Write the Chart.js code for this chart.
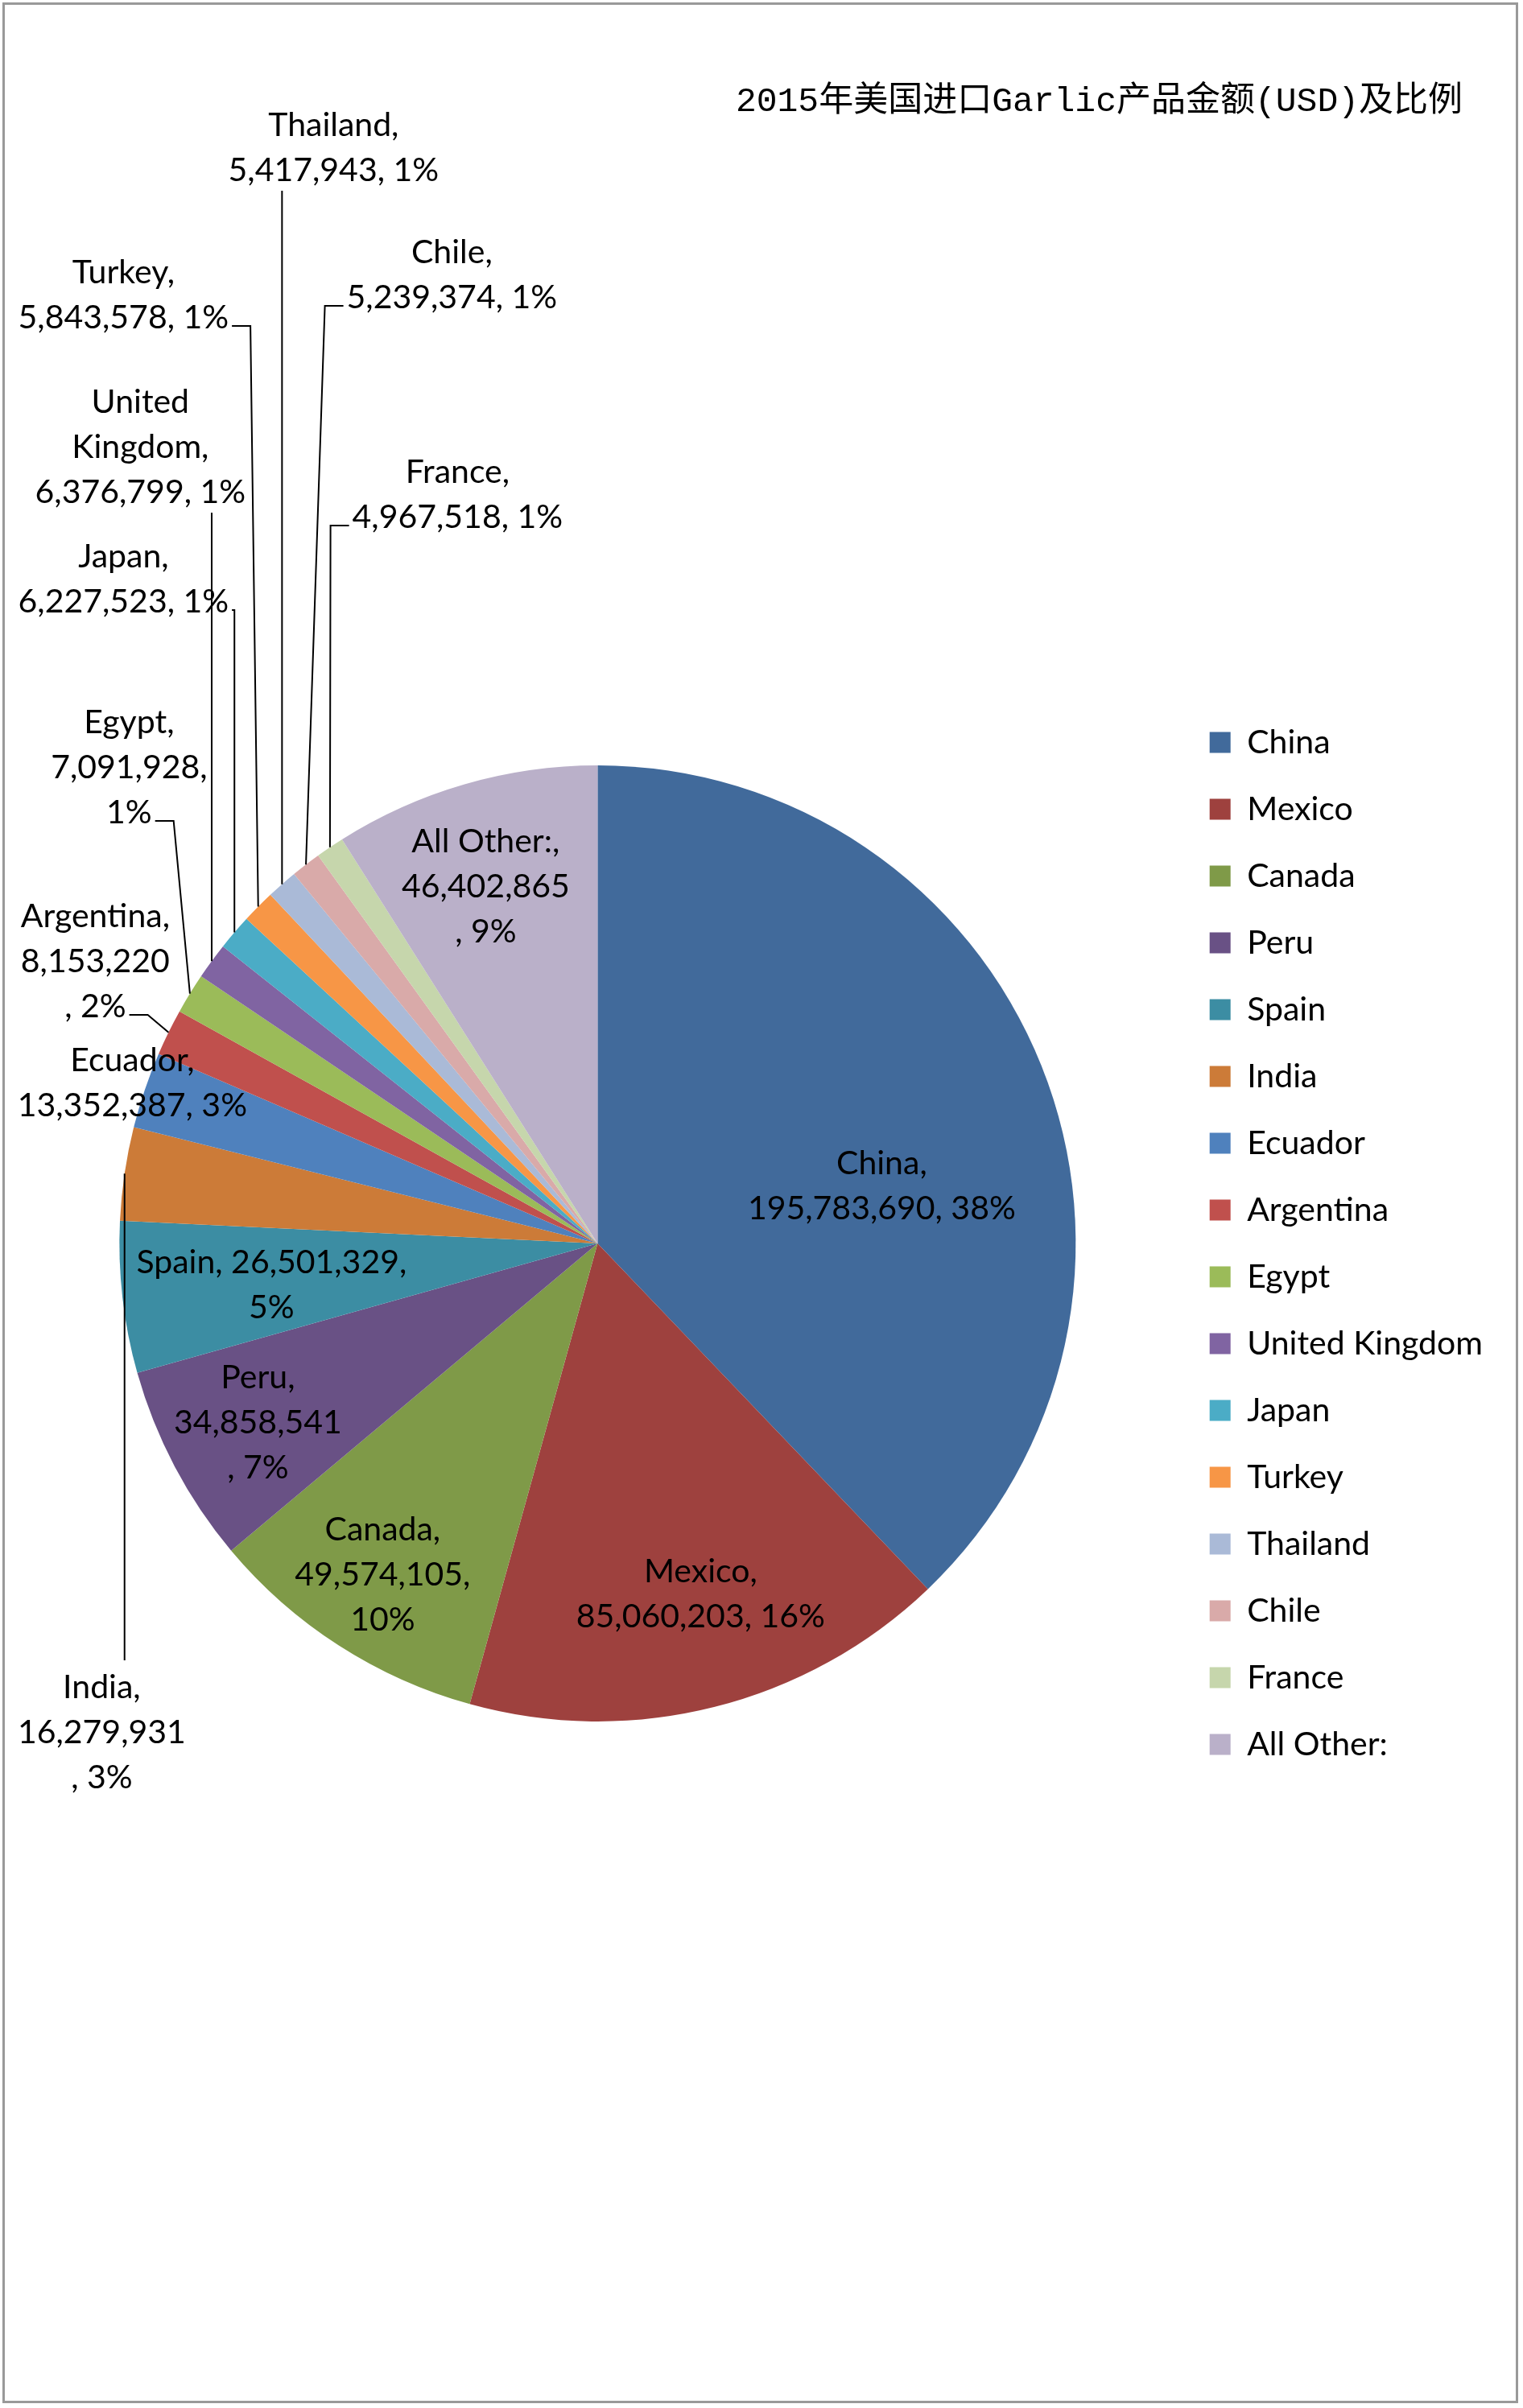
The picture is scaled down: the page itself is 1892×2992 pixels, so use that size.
<!DOCTYPE html>
<html>
<head>
<meta charset="utf-8">
<script src="https://cdn.jsdelivr.net/npm/chart.js@4.4.1/dist/chart.umd.min.js"></script>
<style>
  body { margin: 0; background: #fff; }
</style>
</head>
<body>
<canvas id="garlicChart" width="1892" height="2992"></canvas>
<script>
const chartTitle = '2015年美国进口Garlic产品金额(USD)及比例';
const countries = ['China', 'Mexico', 'Canada', 'Peru', 'Spain', 'India', 'Ecuador', 'Argentina',
    'Egypt', 'United Kingdom', 'Japan', 'Turkey', 'Thailand', 'Chile', 'France', 'All Other:'];
const amounts = [195783690, 85060203, 49574105, 34858541, 26501329, 16279931, 13352387, 8153220,
    7091928, 6376799, 6227523, 5843578, 5417943, 5239374, 4967518, 46402865];
const sliceColors = ['#416A9B', '#9E413E', '#7F9A48', '#695185', '#3C8DA3', '#CC7B38', '#4F81BD', '#C0504D',
    '#9BBB59', '#8064A2', '#4BACC6', '#F79646', '#AABAD7', '#D9AAA9', '#C6D6AC', '#BAB0C9'];

// how each data label wraps ('|' = new line) and where it sits, relative to the pie centre
const labelFormat = ['{n},|{v}, {p}', '{n},|{v}, {p}', '{n},|{v},|{p}', '{n},|{v}|, {p}', '{n}, {v},|{p}',
    '{n},|{v}|, {p}', '{n},|{v}, {p}', '{n},|{v}|, {p}', '{n},|{v},|{p}', '{w},|{v}, {p}', '{n},|{v}, {p}',
    '{n},|{v}, {p}', '{n},|{v}, {p}', '{n},|{v}, {p}', '{n},|{v}, {p}', '{n},|{v}|, {p}'];
const labelOffset = [[353, -71], [128, 436], [-267, 412], [-422, 223], [-405, 52], [-616, 608],
    [-578, -199], [-624, -350], [-582, -591], [-568, -989], [-589, -825], [-589, -1178],
    [-328, -1361], [-181, -1203], [-174, -930], [-139, -443]];
const leaderType = ['', '', '', '', '', 'top', '', 'right', 'right', 'bottom', 'right', 'right',
    'bottom', 'left', 'left', ''];
const lineGap = 56;

const frame = {
    id: 'frame',
    beforeDraw(chart) {
        const ctx = chart.ctx;
        ctx.save();
        ctx.fillStyle = '#fff';
        ctx.fillRect(0, 0, chart.width, chart.height);
        ctx.restore();
    },
    afterDraw(chart) {
        const ctx = chart.ctx;
        ctx.save();
        ctx.fillStyle = '#000';
        ctx.font = "43px 'Liberation Mono', 'Noto Sans CJK SC'";
        ctx.textAlign = 'right';
        ctx.textBaseline = 'middle';
        ctx.fillText(chartTitle, 1817, 127);
        ctx.strokeStyle = '#999';
        ctx.lineWidth = 3;
        ctx.strokeRect(4.5, 4.5, chart.width - 12, chart.height - 12);
        ctx.restore();
    }
};

const sliceLabels = {
    id: 'sliceLabels',
    afterDatasetsDraw(chart) {
        const ctx = chart.ctx;
        const total = amounts.reduce((a, b) => a + b, 0);
        ctx.save();
        ctx.font = '41px Lato';
        ctx.fillStyle = '#000';
        ctx.strokeStyle = '#000';
        ctx.lineWidth = 2;
        ctx.textAlign = 'center';
        ctx.textBaseline = 'middle';
        chart.getDatasetMeta(0).data.forEach((el, i) => {
            const arc = el.getProps(['x', 'y', 'startAngle', 'endAngle', 'outerRadius'], true);
            const pct = Math.round(amounts[i] / total * 100) + '%';
            const text = labelFormat[i]
                .replace('{w}', countries[i].split(' ').join('|'))
                .replace('{n}', countries[i])
                .replace('{v}', amounts[i].toLocaleString('en-US'))
                .replace('{p}', pct);
            const lines = text.split('|');
            const cx = arc.x + labelOffset[i][0];
            const cy = arc.y + labelOffset[i][1];
            const top = cy - (lines.length - 1) * lineGap / 2;
            const lastY = top + (lines.length - 1) * lineGap;
            const lastW = ctx.measureText(lines[lines.length - 1]).width;
            const maxW = Math.max(...lines.map(l => ctx.measureText(l).width));

            const mid = (arc.startAngle + arc.endAngle) / 2;
            const ax = arc.x + Math.cos(mid) * arc.outerRadius;
            const ay = arc.y + Math.sin(mid) * arc.outerRadius;
            const type = leaderType[i];
            if (type) {
                ctx.beginPath();
                if (type === 'bottom' || type === 'top') {
                    const sx = Math.min(Math.max(ax, cx - maxW / 2), cx + maxW / 2);
                    ctx.moveTo(sx, type === 'bottom' ? lastY + 25 : top - 34);
                    ctx.lineTo(ax, ay);
                } else if (type === 'right') {
                    const sx = cx + lastW / 2 + 4, sy = lastY + 10;
                    ctx.moveTo(sx, sy);
                    ctx.lineTo(sx + Math.min(23, Math.max(ax - sx, 0)), sy);
                    ctx.lineTo(ax, ay);
                } else {
                    const sx = cx - lastW / 2 - 4, sy = lastY + 10;
                    ctx.moveTo(sx, sy);
                    ctx.lineTo(sx - Math.min(23, Math.max(sx - ax, 0)), sy);
                    ctx.lineTo(ax, ay);
                }
                ctx.stroke();
            }
            lines.forEach((ln, k) => ctx.fillText(ln, cx, top + k * lineGap));
        });
        ctx.restore();
    }
};

new Chart(document.getElementById('garlicChart'), {
    type: 'pie',
    data: {
        labels: countries,
        datasets: [{
            data: amounts,
            backgroundColor: sliceColors,
            borderWidth: 0,
            radius: 594
        }]
    },
    options: {
        responsive: false,
        animation: false,
        layout: {
            padding: { left: 24, right: 40, top: 160, bottom: 62 }
        },
        plugins: {
            title: { display: false },
            legend: {
                position: 'right',
                maxWidth: 396,
                labels: {
                    boxWidth: 26,
                    boxHeight: 26,
                    padding: 42,
                    color: '#000',
                    font: { family: 'Lato', size: 41 }
                }
            },
            tooltip: { enabled: false }
        }
    },
    plugins: [frame, sliceLabels]
});
</script>
</body>
</html>
